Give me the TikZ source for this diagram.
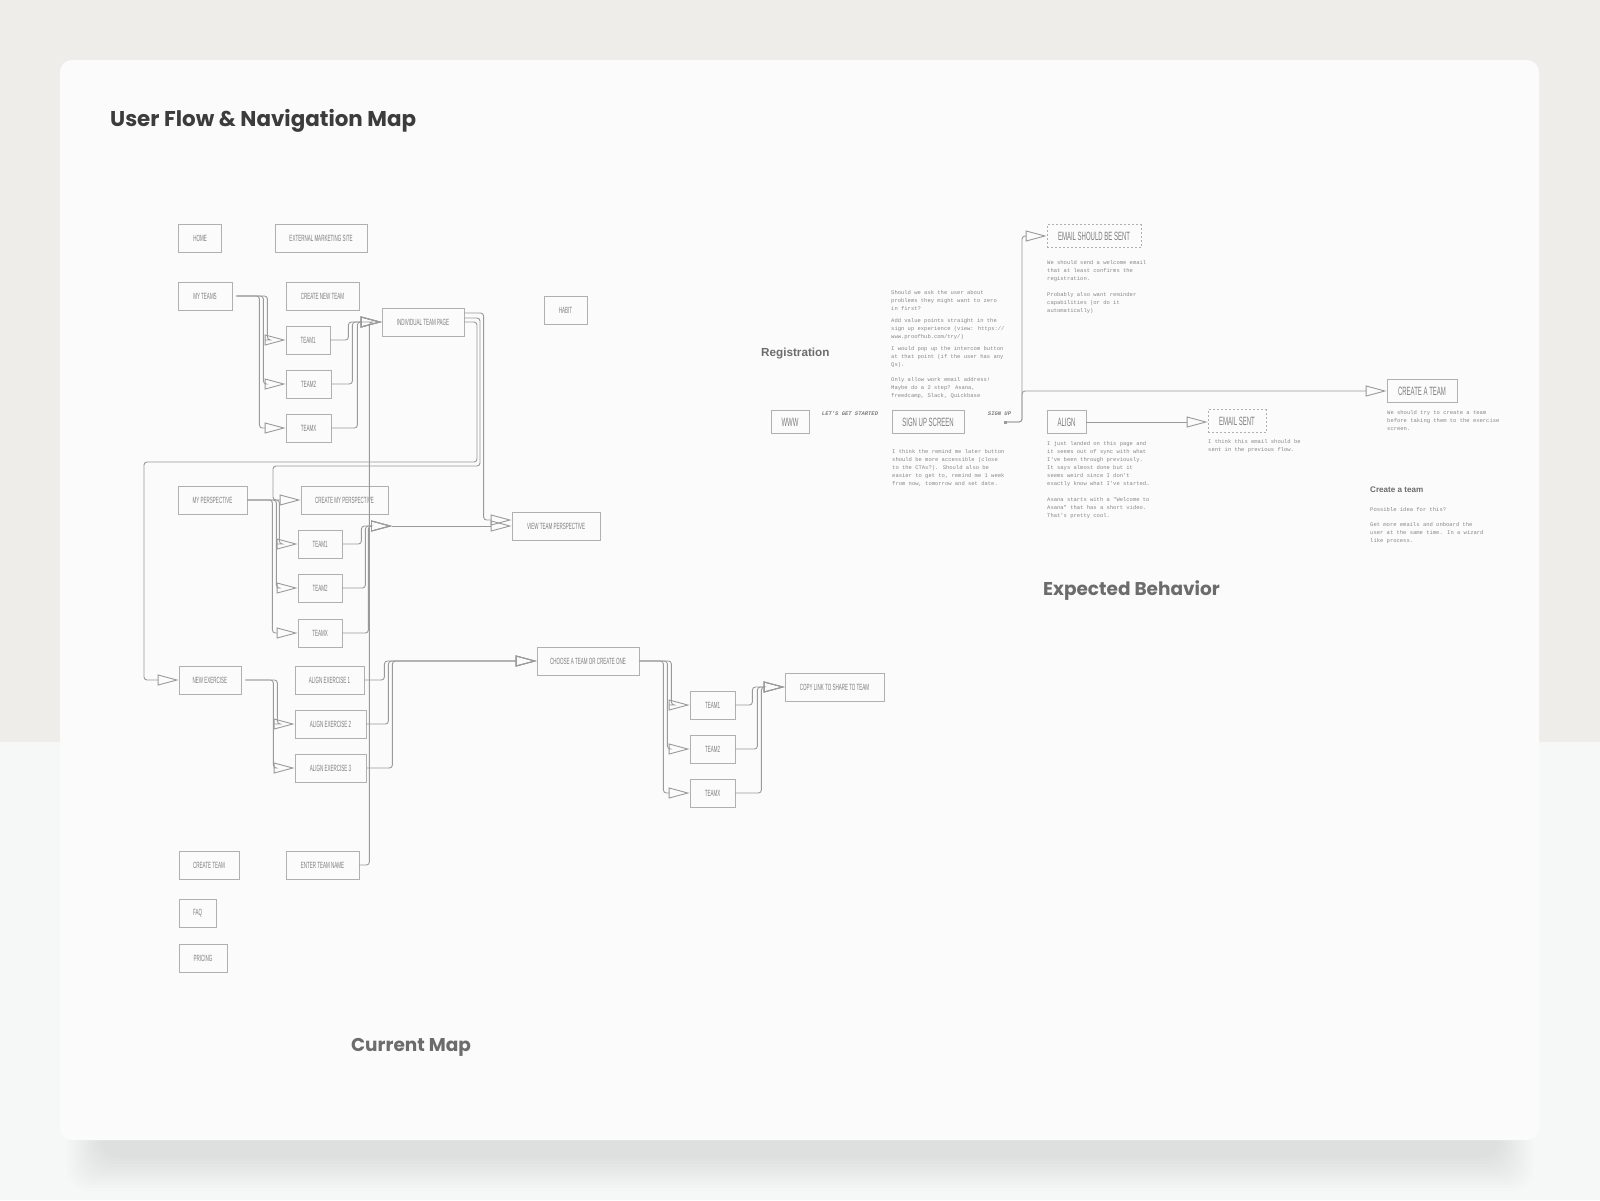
\documentclass[tikz,border=0pt]{standalone}
\usepackage{fontspec}
\setmainfont{Liberation Sans}
\newfontfamily\boxfont[FakeStretch=0.5]{Liberation Sans}
\newfontfamily\notefont{Liberation Mono}
\newfontfamily\headfont{Poppins}
\usetikzlibrary{arrows.meta,calc}
\definecolor{pagetop}{HTML}{EFEDE9}
\definecolor{pagebottom}{HTML}{F6F8F8}
\definecolor{card}{HTML}{FBFBFB}
\definecolor{boxline}{HTML}{B0B0B0}
\definecolor{boxtext}{HTML}{7C7C7C}
\definecolor{wire}{HTML}{9A9A9A}
\definecolor{notetext}{HTML}{888888}
\definecolor{titletext}{HTML}{3C3C3C}
\definecolor{sectiontext}{HTML}{6C6C6C}

\begin{document}
\begin{tikzpicture}[x=1pt, y=-1pt,
	box/.style={draw=boxline, line width=0.8pt, minimum width=#1, minimum height=28pt, inner sep=0pt, text=boxtext, font=\boxfont\fontsize{9}{9}\selectfont},
	bigbox/.style={box=#1, minimum height=23pt, font=\boxfont\fontsize{12}{12}\selectfont},
	dashbox/.style={bigbox=#1, dash pattern=on 2pt off 2pt},
	flow/.style={draw=wire, line width=0.9pt, rounded corners=3pt, -{Triangle[open, length=21pt, width=11pt]}},
	note/.style={anchor=north west, inner sep=0pt, align=left, text=notetext, font=\notefont\fontsize{5.5}{8}\selectfont},
	ctalabel/.style={inner sep=0pt, text=boxtext, font=\notefont\bfseries\itshape\fontsize{5.5}{6}\selectfont},
	section/.style={inner sep=0pt, text=sectiontext, font=\headfont\bfseries\fontsize{18.5}{22}\selectfont}]
\useasboundingbox (0,0) rectangle (1600,1200);
\fill[pagetop] (0,0) rectangle (1600,742);
\fill[pagebottom] (0,742) rectangle (1600,1200);
\foreach \k in {0,...,11}
	\fill[black, opacity=0.006, rounded corners=20pt] ({100-3*\k},{150+\k}) rectangle ({1500+3*\k},{1158+3*\k});
\fill[card, rounded corners=12pt] (60,60) rectangle (1539,1140);

\node[anchor=base west, inner sep=0pt, text=titletext, font=\headfont\bfseries\fontsize{21.4}{25}\selectfont] (title) at (110,126) {User Flow \& Navigation Map};
\node[section] (currentmap) at (411,1047) {Current Map};
\node[section] (expected) at (1131.5,591) {Expected Behavior};

\node[box=43pt] (home) at (200,238) {HOME};
\node[box=92pt] (extsite) at (321,238) {EXTERNAL MARKETING SITE};
\node[box=54pt] (myteams) at (205,296) {MY TEAMS};
\node[box=73pt] (newteam) at (322.5,296) {CREATE NEW TEAM};
\node[box=82pt] (teampage) at (423,322) {INDIVIDUAL TEAM PAGE};
\node[box=43pt] (habit) at (565.5,310) {HABIT};
\node[box=44pt] (team1) at (308,340) {TEAM1};
\node[box=45pt] (team2) at (308.5,384) {TEAM2};
\node[box=45pt] (teamx) at (308.5,428) {TEAMX};
\node[box=69pt] (myview) at (212.5,500) {MY PERSPECTIVE};
\node[box=87pt] (newview) at (344.5,500) {CREATE MY PERSPECTIVE};
\node[box=44pt] (vteam1) at (320,544) {TEAM1};
\node[box=44pt] (vteam2) at (320,588) {TEAM2};
\node[box=44pt] (vteamx) at (320,633) {TEAMX};
\node[box=88pt] (teamview) at (556,526) {VIEW TEAM PERSPECTIVE};
\node[box=62pt] (newex) at (210,680) {NEW EXERCISE};
\node[box=69pt] (align1) at (329.5,680) {ALIGN EXERCISE 1};
\node[box=71pt] (align2) at (330.5,724) {ALIGN EXERCISE 2};
\node[box=71pt] (align3) at (330.5,768) {ALIGN EXERCISE 3};
\node[box=102pt] (choose) at (588,661) {CHOOSE A TEAM OR CREATE ONE};
\node[box=45pt] (pick1) at (712.5,705) {TEAM1};
\node[box=45pt] (pick2) at (712.5,749) {TEAM2};
\node[box=45pt] (pickx) at (712.5,793) {TEAMX};
\node[box=99pt] (copylink) at (834.5,687) {COPY LINK TO SHARE TO TEAM};
\node[box=60pt] (createteam) at (209,865) {CREATE TEAM};
\node[box=73pt] (teamname) at (322.5,865) {ENTER TEAM NAME};
\node[box=37pt] (faq) at (197.5,913.5) {FAQ};
\node[box=48pt] (pricing) at (203,958.5) {PRICING};

\foreach \t/\d in {team1/35,team2/31,teamx/27}
	\draw[flow, shorten <=4pt] (myteams.east) -- ++(\d,0) |- (\t.west);
\foreach \t/\d in {team1/18,team2/21,teamx/26}
	\draw[flow] (\t.east) -- ++(\d,0) |- (teampage.west);
\draw[flow] (teamname.east) -- ++(10,0) |- (teampage.west);
\draw[flow] (teampage.east) -| (477,462) -| (144,680) -- (newex.west);
\draw[flow] ($(teampage.east)+(0,-4)$) -| (480,466) -| (273,500) -- (newview.west);
\draw[flow] ($(teampage.east)+(0,-9)$) -| ($(teamview.west)+(-28,-6)$) -- ($(teamview.west)+(0,-6)$);
\foreach \t/\d in {vteam1/32,vteam2/29,vteamx/25}
	\draw[flow] (myview.east) -- ++(\d,0) |- (\t.west);
\coordinate (viewjoin) at (392,526);
\foreach \t/\d in {vteam1/19,vteam2/23,vteamx/26}
	\draw[flow] (\t.east) -- ++(\d,0) |- (viewjoin);
\draw[flow] (viewjoin) -- (teamview.west);
\foreach \t/\d in {align2/36,align3/32}
	\draw[flow, shorten <=4pt] (newex.east) -- ++(\d,0) |- (\t.west);
\foreach \t/\d in {align1/20,align2/22,align3/26}
	\draw[flow] (\t.east) -- ++(\d,0) |- (choose.west);
\foreach \t/\d in {pick1/32,pick2/28,pickx/24}
	\draw[flow] (choose.east) -- ++(\d,0) |- (\t.west);
\foreach \t/\d in {pick1/17,pick2/22,pickx/26}
	\draw[flow] (\t.east) -- ++(\d,0) |- (copylink.west);

\node[anchor=base west, inner sep=0pt, text=sectiontext, font=\bfseries\fontsize{11.7}{14}\selectfont] (registration) at (761,356) {Registration};
\node[bigbox=38pt] (www) at (790,422) {WWW};
\node[bigbox=72pt] (signup) at (928,422) {SIGN UP SCREEN};
\node[bigbox=39pt] (align) at (1066.5,422) {ALIGN};
\node[dashbox=94pt] (welcomemail) at (1094,236) {EMAIL SHOULD BE SENT};
\node[dashbox=58pt] (emailsent) at (1237,421) {EMAIL SENT};
\node[bigbox=70pt] (firstteam) at (1422,391) {CREATE A TEAM};
\node[ctalabel] (startlabel) at (850,414) {LET'S GET STARTED};
\node[ctalabel] (signlabel) at (999.5,414) {SIGN UP};
\node[fill=wire, minimum size=3pt, inner sep=0pt] (signdot) at (1005,422) {};

\draw[flow] (signdot.center) -- ++(17,0) |- (welcomemail.west);
\draw[flow] (signdot.center) -- ++(17,0) |- (firstteam.west);
\draw[flow] (align.east) -- (align.east -| emailsent.west);

\node[note] (asknote) at (891,290) {Should we ask the user about\\problems they might want to zero\\in first?\\[4.4pt]Add value points straight in the\\sign up experience (view: https://\\www.proofhub.com/try/)\\[4.3pt]I would pop up the intercom button\\at that point (if the user has any\\Qs).\\[7pt]Only allow work email address!\\Maybe do a 2 step? Asana,\\freedcamp, Slack, Quickbase};
\node[note] (remindnote) at (892,449) {I think the remind me later button\\should be more accessible (close\\to the CTAs?). Should also be\\easier to get to, remind me 1 week\\from now, tomorrow and set date.};
\node[note] (welcomenote) at (1047,260.7) {We should send a welcome email\\that at least confirms the\\registration.\\[8pt]Probably also want reminder\\capabilities (or do it\\automatically)};
\node[note] (alignnote) at (1047,441.3) {I just landed on this page and\\it seems out of sync with what\\I've been through previously.\\It says almost done but it\\seems weird since I don't\\exactly know what I've started…\\[8pt]Asana starts with a "Welcome to\\Asana" that has a short video.\\That's pretty cool.};
\node[note] (sentnote) at (1208,439.7) {I think this email should be\\sent in the previous flow.};
\node[note] (teamnote) at (1387,410.7) {We should try to create a team\\before taking them to the exercise\\screen.};
\node[anchor=base west, inner sep=0pt, text=sectiontext, font=\bfseries\fontsize{8.1}{10}\selectfont] (ideahead) at (1370,492) {Create a team};
\node[note] (ideanote) at (1370,507) {Possible idea for this?\\[7pt]Get more emails and onboard the\\user at the same time. In a wizard\\like process.};
\end{tikzpicture}
\end{document}
